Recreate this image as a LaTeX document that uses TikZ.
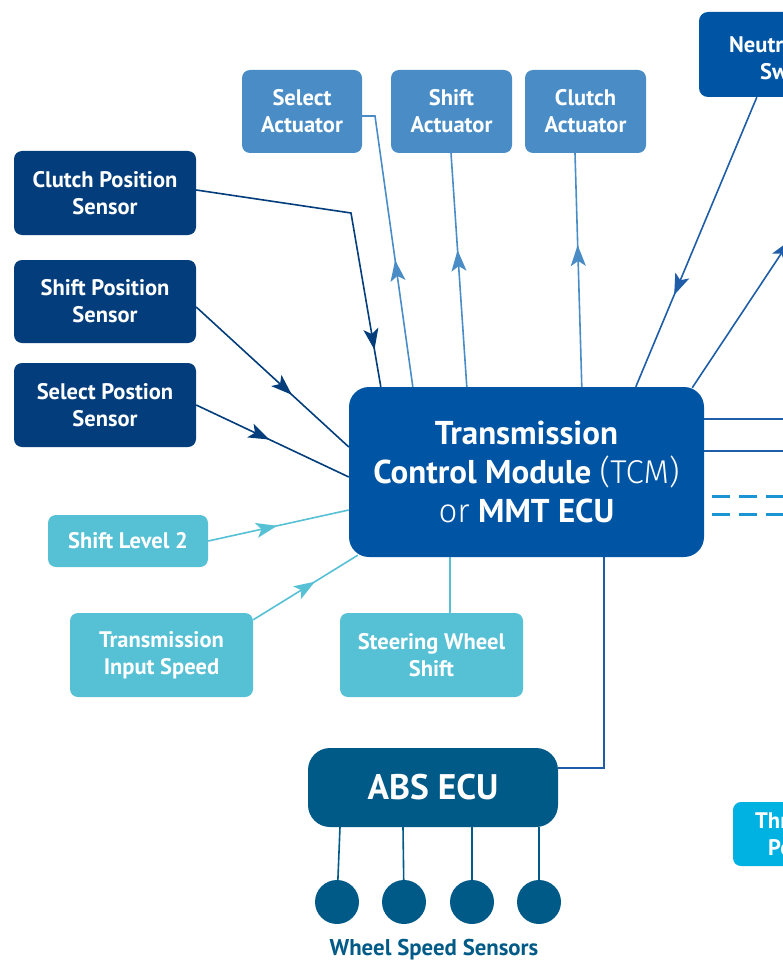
\documentclass[tikz,border=0pt]{standalone}
\usepackage{fontspec}
\setmainfont{PT Sans}
\newfontfamily\lightfont{Fira Sans Light}
\usetikzlibrary{arrows.meta,decorations.markings,calc,backgrounds}
\definecolor{navy}{HTML}{033D7B}
\definecolor{tcmblue}{HTML}{0054A4}
\definecolor{actblue}{HTML}{4A8DC6}
\definecolor{cyanbox}{HTML}{56C0D5}
\definecolor{absblue}{HTML}{005A87}
\definecolor{thrcyan}{HTML}{00B2E2}
\definecolor{dashblue}{HTML}{1A94D2}
\definecolor{linkblue}{HTML}{1F5DA8}
\begin{document}
\begin{tikzpicture}[x=1pt,y=-1pt,
  sbox/.style={rounded corners=8pt, inner sep=0pt, text=white, align=center,
    font=\fontsize{22.5}{27}\selectfont\bfseries},
  navybox/.style={sbox, fill=navy, minimum width=182pt, minimum height=84pt},
  actbox/.style={sbox, fill=actblue, minimum width=121pt, minimum height=83pt},
  cyanb/.style={sbox, fill=cyanbox},
  wheel/.style={circle, fill=absblue, minimum size=44pt, inner sep=0pt},
  conn/.style={line width=1.6pt},
  midarrow/.style={postaction={decorate,decoration={markings,
    mark=at position #1 with {\arrow{Stealth[length=21pt,width=15pt,inset=5pt]}}}}},
  cuttext/.style={anchor=base west, inner sep=0pt, text=white,
    font=\fontsize{22.5}{27}\selectfont\bfseries}
]
\useasboundingbox (0,0) rectangle (783,960);
\clip (0,0) rectangle (783,960);

% actuators
\node[actbox, minimum width=120pt] (sa) at (302,111.5) {Select\\Actuator};
\node[actbox] (sha) at (451.5,111.5) {Shift\\Actuator};
\node[actbox] (ca) at (585.5,111.5) {Clutch\\Actuator};

% neutral switch (cut off)
\node[sbox, fill=tcmblue, minimum width=180pt, minimum height=85pt, rounded corners=9pt] (ns) at (789,54.5) {};
\node[cuttext] (nst1) at (729,53) {Neutral};
\node[cuttext] (nst2) at (760,80) {Switch};

% sensors
\node[navybox] (cps) at (105,193) {Clutch Position\\Sensor};
\node[navybox, minimum height=83pt] (sps) at (105,301.5) {Shift Position\\Sensor};
\node[navybox] (slps) at (105,405) {Select Postion\\Sensor};

% TCM
\node[sbox, fill=tcmblue, minimum width=355pt, minimum height=170pt, rounded corners=20pt,
  font=\fontsize{33}{39}\selectfont\bfseries] (tcm) at (526.5,472)
  {Transmission\\Control Module {\mdseries\lightfont (TCM)}\\{\mdseries\lightfont or} MMT ECU};

% cyan inputs
\node[cyanb, minimum width=160pt, minimum height=52pt] (sl2) at (128,541) {Shift Level 2};
\node[cyanb, minimum width=183pt, minimum height=84pt] (tis) at (161.5,655) {Transmission\\Input Speed};
\node[cyanb, minimum width=183pt, minimum height=84pt] (sws) at (431.5,655) {Steering Wheel\\Shift};

% throttle (cut off)
\node[sbox, fill=thrcyan, minimum width=180pt, minimum height=64pt] (thr) at (823,834) {};
\node[cuttext] (thrt1) at (755,828) {Throttle};
\node[cuttext] (thrt2) at (768,855) {Position};

% ABS
\node[sbox, fill=absblue, minimum width=250pt, minimum height=79pt, rounded corners=22pt,
  font=\fontsize{35.5}{40}\selectfont\bfseries] (abs) at (433,787.5) {ABS ECU};
\node[wheel] (w1) at (337,902) {};
\node[wheel] (w2) at (404,902) {};
\node[wheel] (w3) at (472,902) {};
\node[wheel] (w4) at (539,902) {};
\node[text=absblue, font=\fontsize{22.8}{26}\selectfont\bfseries, inner sep=0pt, anchor=base] (wss) at (434,955) {Wheel Speed Sensors};

\coordinate (r1) at (800,419);
\coordinate (r2) at (800,451);
\coordinate (d1) at (800,496);
\coordinate (d2) at (800,514);
\coordinate (up) at (830,180);
\coordinate (swtop) at ($(tcm.south west)+(101,0)$);
\coordinate (absjoin) at ($(tcm.south west)+(255,0)$);

\begin{scope}[on background layer]
% sensor inputs
\draw[conn, navy, midarrow=0.887] ($(cps.east)+(0,-3)$) -- (351,213) -- ($(tcm.north west)+(32,0)$);
\draw[conn, navy, midarrow=0.627] ($(sps.east)+(0,5.5)$) -- ($(tcm.west)+(0,-25)$);
\draw[conn, navy, midarrow=0.48] (slps.east) -- ($(tcm.west)+(0,5)$);
% actuator outputs
\draw[conn, actblue, midarrow=0.447] ($(tcm.north west)+(64,0)$) -- (375,116) -- ($(sa.east)+(0,4.5)$);
\draw[conn, actblue, midarrow=0.585] ($(tcm.north west)+(118,0)$) -- ($(sha.south)+(-0.5,0)$);
\draw[conn, actblue, midarrow=0.607] ($(tcm.north west)+(233,0)$) -- ($(ca.south)+(-10.5,0)$);
% neutral switch
\draw[conn, linkblue, midarrow=0.683] ($(ns.south west)+(58,0)$) -- ($(tcm.north west)+(287,0)$);
\draw[conn, linkblue, midarrow=0.71] ($(tcm.north east)+(-12,1)$) -- (up);
% right side
\draw[conn, linkblue] ($(tcm.east)+(0,-53)$) -- (r1);
\draw[conn, linkblue] ($(tcm.east)+(0,-21)$) -- (r2);
\draw[dashblue, line width=3pt, dash pattern=on 18pt off 9pt] ($(tcm.east)+(8,24)$) -- (d1);
\draw[dashblue, line width=3pt, dash pattern=on 18pt off 9pt] ($(tcm.east)+(8,42)$) -- (d2);
% cyan inputs
\draw[conn, cyanbox, midarrow=0.49] (sl2.east) -- ($(tcm.west)+(0,38)$);
\draw[conn, cyanbox, midarrow=0.59] ($(tis.north east)+(0,7)$) -- ($(tcm.south west)+(9,-2)$);
\draw[conn, cyanbox] (swtop) -- (swtop |- sws.north);
% ABS
\draw[conn, linkblue] (absjoin) |- ($(abs.east)+(0,-19.5)$);
\foreach \w/\xx in {w1/340, w2/403, w3/472, w4/539}
  \draw[conn, absblue] (\xx, 827) -- (\w);
\end{scope}
\end{tikzpicture}
\end{document}
